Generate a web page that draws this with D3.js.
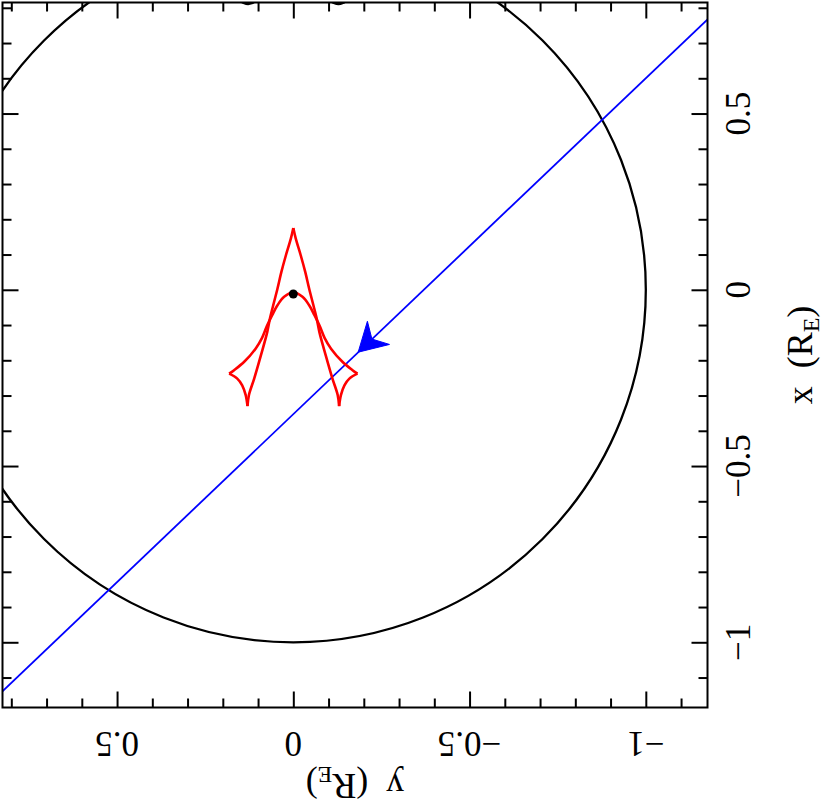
<!DOCTYPE html>
<html>
<head>
<meta charset="utf-8">
<script src="https://cdn.jsdelivr.net/npm/d3@7"></script>
<style>
  body { margin: 0; background: #fff; }
  svg { display: block; }
  text { font-family: "Liberation Serif", "Times New Roman", serif; fill: #000; }
</style>
</head>
<body>
<svg width="830" height="810"></svg>
<script>
// axis ticks, same for both axes (R_E units)
const majorTicks = [0.5, 0, -0.5, -1]
const majorLabels = ["0.5", "0", "\u22120.5", "\u22121"]
const minorTicks = [0.8, 0.7, 0.6, 0.4, 0.3, 0.2, 0.1, -0.1, -0.2, -0.3, -0.4, -0.6, -0.7, -0.8, -0.9, -1.1]

// caustic pieces, points as [x, y] in R_E (x vertical, y horizontal)
const causticTopLeft = [[0.175, 0], [0.145, 0.007], [0.098, 0.021], [0.050, 0.034], [0.003, 0.045], [-0.044, 0.057],
  [-0.080, 0.066], [-0.120, 0.074], [-0.186, 0.092], [-0.252, 0.111], [-0.299, 0.126], [-0.330, 0.130]]
const causticFoldLeft = [[-0.330, 0.130], [-0.299, 0.135], [-0.271, 0.145], [-0.252, 0.159], [-0.238, 0.182]]
const causticArch = [[-0.238, 0.182], [-0.228, 0.168], [-0.205, 0.140], [-0.167, 0.107], [-0.137, 0.089], [-0.103, 0.075],
  [-0.072, 0.060], [-0.044, 0.045], [-0.020, 0.026], [-0.007, 0], [-0.020, -0.026], [-0.044, -0.045], [-0.072, -0.060],
  [-0.103, -0.075], [-0.137, -0.089], [-0.167, -0.107], [-0.205, -0.140], [-0.228, -0.168], [-0.238, -0.182]]
const causticFoldRight = [[-0.238, -0.182], [-0.252, -0.159], [-0.271, -0.145], [-0.299, -0.135], [-0.330, -0.130]]
const causticTopRight = [[-0.330, -0.130], [-0.299, -0.126], [-0.252, -0.111], [-0.186, -0.092], [-0.120, -0.074],
  [-0.080, -0.066], [-0.044, -0.057], [0.003, -0.045], [0.050, -0.034], [0.098, -0.021], [0.145, -0.007], [0.175, 0]]

// source trajectory (two ends, clipped by frame) and arrow position
const trajectory = [[0.791, -1.2], [-1.163, 0.85]]
const arrowTip = [-0.177, -0.184]
const lensStar = [-0.012, 0]
const ringRadius = 1
const topBlobs = [[0.841, 0.128], [0.841, -0.128]]
const blobRadius = 0.03

const svg = d3.select("svg")
const frameL = 2.5, frameR = 707.5, frameT = 2.5, frameB = 707.5

// horizontal screen axis = y, vertical screen axis = x (plot is rotated)
const sy = d3.scaleLinear().domain([0.825, -1.175]).range([frameL, frameR])
const sx = d3.scaleLinear().domain([0.815, -1.185]).range([frameT, frameB])

svg.append("clipPath").attr("id", "frame")
  .append("rect")
  .attr("x", frameL).attr("y", frameT)
  .attr("width", frameR - frameL).attr("height", frameB - frameT)

const g = svg.append("g").attr("clip-path", "url(#frame)")

// Einstein ring
g.append("ellipse")
  .attr("cx", sy(0)).attr("cy", sx(0))
  .attr("rx", Math.abs(sy(ringRadius) - sy(0)))
  .attr("ry", Math.abs(sx(ringRadius) - sx(0)))
  .attr("fill", "none").attr("stroke", "#000").attr("stroke-width", 2.3)

g.selectAll(".blob")
  .data(topBlobs)
  .enter().append("ellipse")
  .attr("class", "blob")
  .attr("cx", d => sy(d[1])).attr("cy", d => sx(d[0]))
  .attr("rx", Math.abs(sy(blobRadius) - sy(0)))
  .attr("ry", Math.abs(sx(blobRadius) - sx(0)))
  .attr("fill", "none").attr("stroke", "#000").attr("stroke-width", 2.5)

// trajectory
g.append("line")
  .attr("x1", sy(trajectory[0][1])).attr("y1", sx(trajectory[0][0]))
  .attr("x2", sy(trajectory[1][1])).attr("y2", sx(trajectory[1][0]))
  .attr("stroke", "#0000ff").attr("stroke-width", 1.8)

// arrow head pointing along the trajectory
const dx = sy(trajectory[1][1]) - sy(trajectory[0][1])
const dy = sx(trajectory[1][0]) - sx(trajectory[0][0])
const len = Math.hypot(dx, dy)
const ux = dx / len, uy = dy / len
const tx = sy(arrowTip[1]), ty = sx(arrowTip[0])
const headLen = 28, headHalf = 16, notch = 19
const head = [
  [tx, ty],
  [tx - headLen * ux + headHalf * uy, ty - headLen * uy - headHalf * ux],
  [tx - notch * ux, ty - notch * uy],
  [tx - headLen * ux - headHalf * uy, ty - headLen * uy + headHalf * ux]
]
g.append("path")
  .attr("d", "M" + head.join("L") + "Z")
  .attr("fill", "#0000ff").attr("stroke", "#0000ff").attr("stroke-width", 1)

// caustic
const causticLine = d3.line()
  .x(d => sy(d[1]))
  .y(d => sx(d[0]))
  .curve(d3.curveCatmullRom.alpha(0.5))

g.selectAll(".caustic")
  .data([causticTopLeft, causticFoldLeft, causticArch, causticFoldRight, causticTopRight])
  .enter().append("path")
  .attr("class", "caustic")
  .attr("d", causticLine)
  .attr("fill", "none")
  .attr("stroke", "#ff0000")
  .attr("stroke-width", 2.6)
  .attr("stroke-linejoin", "round")

// lens star
g.append("circle")
  .attr("cx", sy(lensStar[1])).attr("cy", sx(lensStar[0]))
  .attr("r", 4.5)
  .attr("fill", "#000")

// ticks, pointing inward on all four sides
function addTicks(axis, transform, values, size) {
  const a = svg.append("g")
    .attr("transform", transform)
    .call(axis.tickValues(values).tickSizeInner(size).tickSizeOuter(0).tickFormat(""))
  a.select(".domain").remove()
  a.selectAll("line").attr("stroke", "#000").attr("stroke-width", 2)
}
addTicks(d3.axisBottom(sy), `translate(0,${frameB})`, majorTicks, -16)
addTicks(d3.axisBottom(sy), `translate(0,${frameB})`, minorTicks, -9)
addTicks(d3.axisTop(sy), `translate(0,${frameT})`, majorTicks, -16)
addTicks(d3.axisTop(sy), `translate(0,${frameT})`, minorTicks, -9)
addTicks(d3.axisLeft(sx), `translate(${frameL},0)`, majorTicks, -16)
addTicks(d3.axisLeft(sx), `translate(${frameL},0)`, minorTicks, -9)
addTicks(d3.axisRight(sx), `translate(${frameR},0)`, majorTicks, -16)
addTicks(d3.axisRight(sx), `translate(${frameR},0)`, minorTicks, -9)

// frame
svg.append("rect")
  .attr("x", frameL).attr("y", frameT)
  .attr("width", frameR - frameL).attr("height", frameB - frameT)
  .attr("fill", "none").attr("stroke", "#000").attr("stroke-width", 2)

// tick labels: bottom upside down, right rotated
svg.selectAll(".blabel")
  .data(majorTicks)
  .enter().append("text")
  .attr("class", "blabel")
  .attr("transform", d => `translate(${sy(d)},732) rotate(180)`)
  .attr("text-anchor", "middle")
  .style("font-size", "35px")
  .text((d, i) => majorLabels[i])

svg.selectAll(".rlabel")
  .data(majorTicks)
  .enter().append("text")
  .attr("class", "rlabel")
  .attr("transform", d => `translate(750,${sx(d)}) rotate(-90)`)
  .attr("text-anchor", "middle")
  .style("font-size", "35px")
  .text((d, i) => majorLabels[i])

function axisTitle(name, transform) {
  const t = svg.append("text")
    .attr("transform", transform)
    .attr("text-anchor", "middle")
    .style("font-size", "36px")
  t.append("tspan").text(name + "\u2002(R")
  t.append("tspan").attr("dy", 7).style("font-size", "24px").text("E")
  t.append("tspan").attr("dy", -7).text(")")
}
axisTitle("x", `translate(812,${(frameT + frameB) / 2}) rotate(-90)`)
axisTitle("y", `translate(${(frameL + frameR) / 2},774) rotate(180)`)
</script>
</body>
</html>
